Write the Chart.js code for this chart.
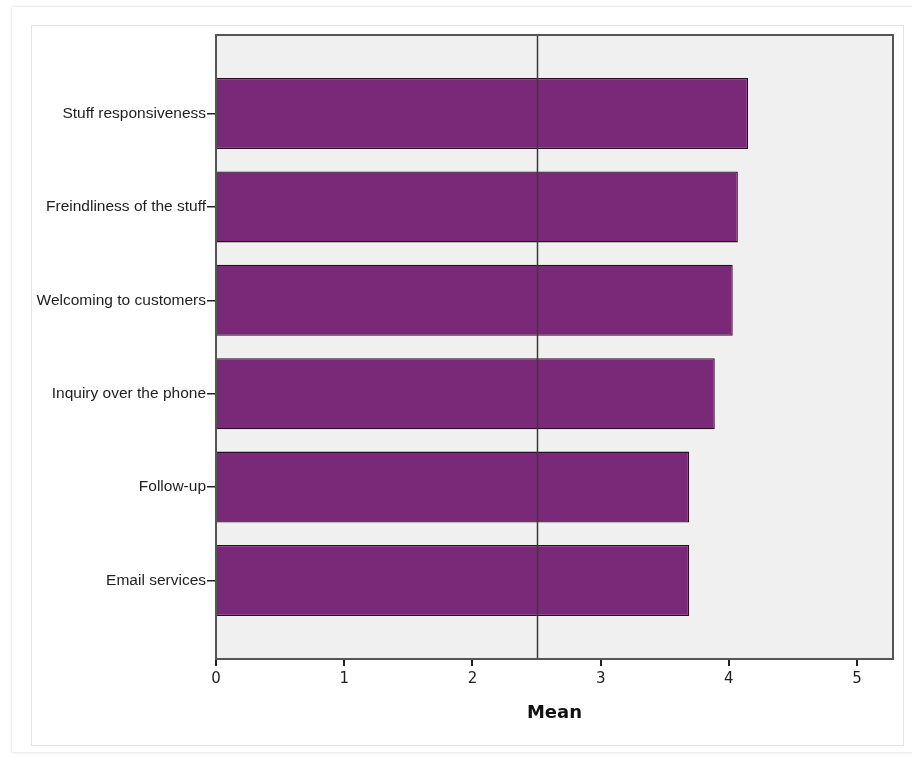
<!DOCTYPE html>
<html>
<head>
<meta charset="utf-8">
<script src="https://cdn.jsdelivr.net/npm/chart.js@4.4.0/dist/chart.umd.min.js"></script>
<style>
  body { margin: 0; background: #fff; }
  #wrap { position: relative; width: 912px; height: 762px; overflow: hidden; }
  #card { position: absolute; left: 12px; top: 7px; width: 920px; height: 745px; box-shadow: 0 0 3px rgba(0,0,0,0.18); background: #fff; }
  #inner { position: absolute; left: 31px; top: 25px; width: 871px; height: 719px; border: 1px solid #e4e4e4; background: #fff; }
  #my-chart { position: absolute; left: 0; top: 0; }
</style>
</head>
<body>
<div id="wrap">
  <div id="card"></div>
  <div id="inner"></div>
  <canvas id="my-chart" width="912" height="762"></canvas>
</div>
<script>
const categories = ['Stuff responsiveness', 'Freindliness of the stuff', 'Welcoming to customers',
    'Inquiry over the phone', 'Follow-up', 'Email services'];
const meanValues = [4.15, 4.07, 4.03, 3.89, 3.69, 3.69];
const xTicks = [0, 1, 2, 3, 4, 5];
const xMax = 5.28;
const refLine = 2.5;

// plot box background, frame and the reference line
const plotFrame = {
    id: 'plotFrame',
    beforeDatasetsDraw(chart) {
        const {ctx, chartArea} = chart;
        ctx.save();
        ctx.fillStyle = '#f0f0f0';
        ctx.fillRect(chartArea.left, chartArea.top, chartArea.width, chartArea.height);
        ctx.restore();
    },
    afterDatasetsDraw(chart) {
        const {ctx, chartArea} = chart;
        const x = Math.round(chart.scales.x.getPixelForValue(refLine)) + 0.5;
        ctx.save();
        ctx.strokeStyle = '#3a3a3a';
        ctx.lineWidth = 1.5;
        ctx.beginPath();
        ctx.moveTo(x, chartArea.top);
        ctx.lineTo(x, chartArea.bottom);
        ctx.stroke();
        ctx.strokeStyle = '#555';
        ctx.lineWidth = 2;
        ctx.strokeRect(chartArea.left, chartArea.top, chartArea.width, chartArea.height);
        ctx.restore();
    }
};

const ctx = document.getElementById('my-chart').getContext('2d');
new Chart(ctx, {
    type: 'bar',
    data: {
        datasets: [{
            label: 'Mean',
            data: meanValues.map((v, i) => ({x: v, y: i})),
            backgroundColor: '#7a2878',
            borderColor: '#26121f',
            borderWidth: 1.3,
            barPercentage: 0.95,
            categoryPercentage: 0.8
        }]
    },
    options: {
        indexAxis: 'y',
        responsive: false,
        animation: false,
        devicePixelRatio: 1,
        layout: { padding: { left: 0, top: 35, right: 19, bottom: 0 } },
        plugins: { legend: { display: false }, tooltip: { enabled: false } },
        scales: {
            y: {
                type: 'linear',
                reverse: true,
                offset: false,
                min: -0.84,
                max: categories.length - 1 + 0.84,
                afterBuildTicks: scale => {
                    scale.ticks = categories.map((c, i) => ({value: i}));
                },
                afterFit: scale => { scale.width = 216; },
                grid: { offset: false, drawOnChartArea: false, tickLength: 9, color: '#222', lineWidth: 1.5 },
                border: { display: true, color: '#555', width: 2 },
                ticks: {
                    padding: 1,
                    color: '#1e1e1e',
                    font: { family: 'Liberation Sans', size: 15.5 },
                    callback: value => categories[value]
                }
            },
            x: {
                type: 'linear',
                min: 0,
                max: xMax,
                afterBuildTicks: scale => {
                    scale.ticks = xTicks.map(t => ({value: t}));
                },
                afterFit: scale => { scale.height = 103; },
                grid: { drawOnChartArea: false, tickLength: 7, color: '#222', lineWidth: 2 },
                border: { display: true, color: '#555', width: 2 },
                ticks: {
                    padding: 4,
                    color: '#1e1e1e',
                    font: { family: 'DejaVu Sans', size: 15 }
                },
                title: {
                    display: true,
                    text: 'Mean',
                    color: '#111',
                    font: { family: 'DejaVu Sans', size: 18, weight: 'bold' },
                    padding: { top: 0, bottom: 38 }
                }
            }
        }
    },
    plugins: [plotFrame]
});
</script>
</body>
</html>
